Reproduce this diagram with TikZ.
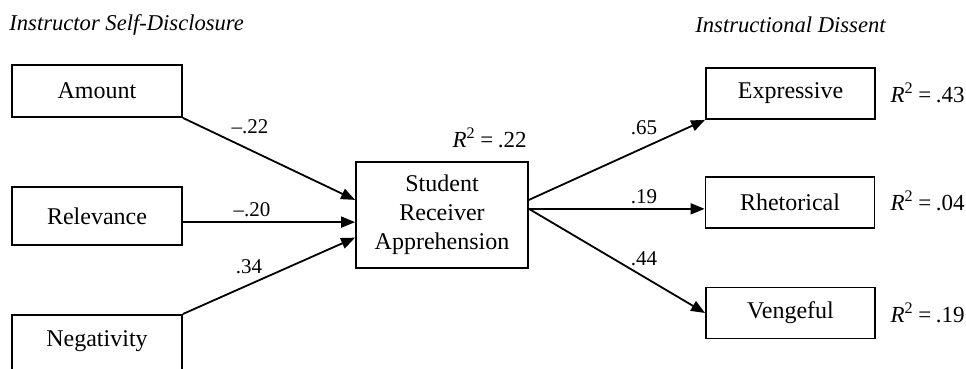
\documentclass[tikz,border=0pt]{standalone}
\usepackage{fontspec}
\setmainfont{Liberation Serif}
\usetikzlibrary{arrows.meta,calc}
\newcommand{\rsqv}[1]{\textit{R}\textsuperscript{2}\hspace{0.2em}=\hspace{0.2em}#1}
\begin{document}
\begin{tikzpicture}[x=0.5pt,y=-0.5pt,
 box/.style={draw, line width=0.9pt, minimum width=85pt, font=\fontsize{12}{14.5}\selectfont, inner sep=0pt, align=center},
 rbox/.style={box, minimum width=84.5pt, minimum height=25.5pt},
 arr/.style={line width=0.9pt, -{Triangle[length=7pt,width=5.5pt]}},
 lab/.style={font=\fontsize{10.5}{12}\selectfont, inner sep=0pt},
 rsq/.style={font=\fontsize{11.5}{13}\selectfont, inner sep=0pt, anchor=east},
 ttl/.style={font=\fontsize{11.3}{13}\selectfont\itshape, inner sep=0pt, anchor=west}]
\clip (0,0) rectangle (966,369);
\fill[white] (0,0) rectangle (966,369);

\node[ttl] (t1) at (9,25) {Instructor Self-Disclosure};
\node[ttl] (t2) at (695,25) {Instructional Dissent};

\node[box, minimum height=26pt] (amt) at (97,91) {Amount};
\node[box, minimum height=29pt] (rel) at (97,216) {Relevance};
\node[box, anchor=north, text height=9pt, text depth=40pt, inner ysep=7pt] (neg) at (97,314) {Negativity};

\node[box, minimum width=86pt, minimum height=53pt] (ctr) at (442,215) {Student\\Receiver\\Apprehension};

\node[rbox] (exp) at (790.5,93.5) {Expressive};
\node[rbox] (rhe) at (790,202.5) {Rhetorical};
\node[rbox] (ven) at (790.5,313) {Vengeful};

\coordinate (c1) at ($(ctr.north west)!0.36!(ctr.south west)$);
\coordinate (c2) at ($(ctr.north west)!0.566!(ctr.south west)$);
\coordinate (c3) at ($(ctr.north west)!0.71!(ctr.south west)$);
\coordinate (o1) at ($(ctr.north east)!0.36!(ctr.south east)$);
\coordinate (o2) at ($(ctr.north east)!0.443!(ctr.south east)$);

\draw[arr] (amt.south east) -- (c1);
\draw[arr] (rel.east |- c2) -- (c2);
\draw[arr] (neg.north east) -- (c3);
\draw[arr] (o1) -- (exp.south west);
\draw[arr] (o2) -- (rhe.west |- o2);
\draw[arr] (o2) -- (ven.west);

\node[lab] (l1) at (250,127) {\textendash.22};
\node[lab] (l2) at (252,210) {\textendash.20};
\node[lab] (l3) at (249,267) {.34};
\node[lab] (l4) at (644,128) {.65};
\node[lab] (l5) at (644,197) {.19};
\node[lab] (l6) at (644,259) {.44};

\node[rsq] (r0) at (527,138) {\rsqv{.22}};
\node[rsq] (r1) at (965,93) {\rsqv{.43}};
\node[rsq] (r2) at (965,201) {\rsqv{.04}};
\node[rsq] (r3) at (965,313) {\rsqv{.19}};
\end{tikzpicture}
\end{document}
